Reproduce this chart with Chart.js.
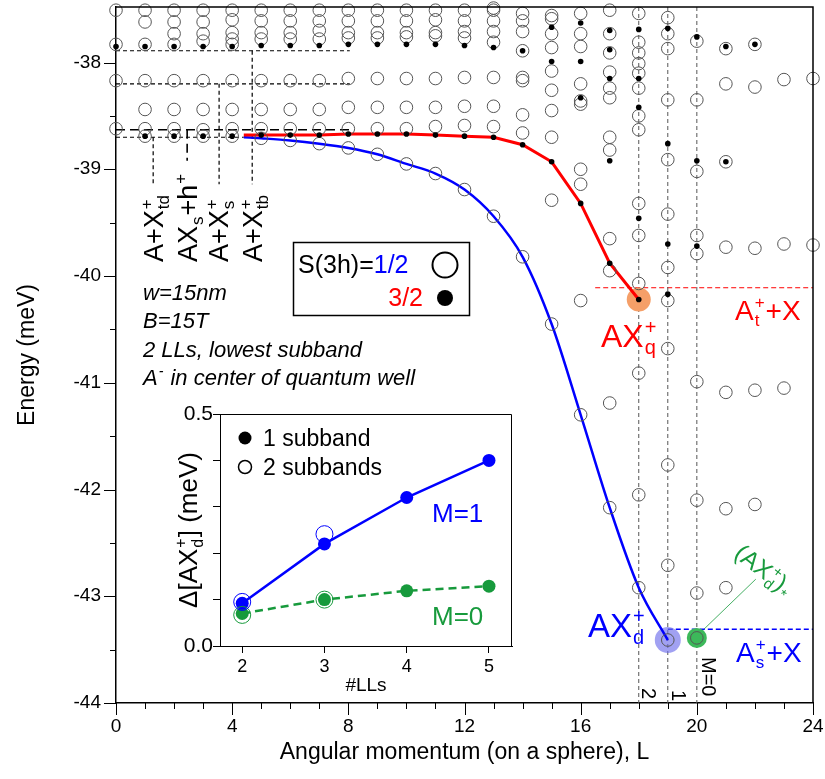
<!DOCTYPE html>
<html><head><meta charset="utf-8">
<script src="https://cdn.jsdelivr.net/npm/chart.js@4.4.1/dist/chart.umd.min.js"></script>
<style>
body{margin:0;background:#fff}
#wrap{position:relative;width:825px;height:779px}
#inset{position:absolute;left:150px;top:395px}
</style>
</head><body>
<div id="wrap"><canvas id="main" width="825" height="779"></canvas><canvas id="inset" width="370" height="305"></canvas></div>
<script>
// S=1/2 levels (open circles), per angular momentum L
const openCols = [
  [0, [-37.51,-37.83,-38.17,-38.62]],
  [1, [-37.51,-37.62,-37.83,-38.17,-38.44,-38.62,-38.69]],
  [2, [-37.51,-37.62,-37.73,-37.83,-38.17,-38.44,-38.62,-38.69]],
  [3, [-37.51,-37.62,-37.73,-37.80,-38.17,-38.44,-38.63,-38.69]],
  [4, [-37.51,-37.60,-37.72,-37.78,-37.83,-38.17,-38.44,-38.62,-38.69]],
  [5, [-37.51,-37.61,-37.72,-37.78,-38.17,-38.44,-38.62,-38.71]],
  [6, [-37.51,-37.61,-37.72,-37.78,-38.17,-38.44,-38.62,-38.73]],
  [7, [-37.51,-37.61,-37.70,-37.78,-38.17,-38.44,-38.62,-38.76]],
  [8, [-37.51,-37.61,-37.72,-37.77,-38.15,-38.42,-38.62,-38.80]],
  [9, [-37.51,-37.61,-37.72,-37.77,-38.15,-38.42,-38.62,-38.86]],
  [10, [-37.51,-37.61,-37.72,-37.76,-38.15,-38.42,-38.62,-38.95]],
  [11, [-37.51,-37.60,-37.72,-37.75,-38.15,-38.42,-38.60,-39.04]],
  [12, [-37.51,-37.61,-37.71,-37.77,-38.14,-38.41,-38.59,-39.19]],
  [13, [-37.49,-37.51,-37.61,-37.71,-37.81,-38.14,-38.41,-38.60,-39.44]],
  [14, [-37.54,-37.61,-37.71,-37.89,-38.14,-38.17,-38.49,-38.66,-39.82]],
  [15, [-37.56,-37.59,-37.73,-37.86,-38.08,-38.26,-38.45,-38.70,-39.29,-40.45]],
  [16, [-37.54,-37.73,-37.85,-38.20,-38.36,-38.39,-39.00,-39.14,-40.23,-41.30]],
  [17, [-37.51,-37.73,-37.91,-38.09,-38.24,-38.33,-38.70,-38.82,-39.65,-39.95,-41.19,-42.17]],
  [18, [-37.54,-37.81,-37.91,-38.01,-38.10,-38.24,-38.50,-38.63,-39.32,-39.62,-40.07,-40.91,-42.05,-42.92]],
  [19, [-37.58,-37.73,-37.87,-38.35,-38.91,-39.42,-39.92,-40.23,-40.68,-41.77,-42.71,-43.41]],
  [20, [-37.80,-38.35,-39.02,-39.62,-39.79,-40.99,-42.10,-42.97,-43.39]],
  [21, [-37.87,-38.20,-38.93,-39.73,-41.09,-42.18,-42.92]],
  [22, [-37.83,-38.23,-39.74,-41.07,-42.14]],
  [23, [-38.16,-39.70,-41.05]],
  [24, [-38.15,-39.71]]
];
// S=3/2 levels (filled dots)
const dotCols = [
  [0, [-37.85]], [1, [-37.85,-38.69]], [2, [-37.85,-38.69]], [3, [-37.85,-38.69]],
  [4, [-37.85,-38.69]], [5, [-37.84,-38.68]], [6, [-37.84,-38.68]], [7, [-37.84,-38.68]],
  [8, [-37.83,-38.67]], [9, [-37.83,-38.67]], [10, [-37.83,-38.67]], [11, [-37.83,-38.68]],
  [12, [-37.84,-38.69]], [13, [-37.86,-38.70]], [14, [-37.89,-38.77]],
  [15, [-37.67,-37.99,-38.93]], [16, [-37.63,-37.99,-38.33,-39.32]],
  [17, [-37.70,-37.88,-38.15,-38.92,-39.88]], [18, [-37.69,-38.15,-38.42,-39.46,-40.22]],
  [19, [-37.68,-38.76,-39.70,-40.17]], [20, [-37.76,-38.92,-39.72]],
  [21, [-37.85,-38.93]], [22, [-37.83]]
];
const redL = [4.4,5,6,7,8,9,10,11,12,13,14,15,16,17,18];
const redE = [-38.68,-38.68,-38.68,-38.68,-38.67,-38.67,-38.67,-38.68,-38.69,-38.70,-38.77,-38.93,-39.32,-39.88,-40.22];
const blueL = [4.4,5,6,7,8,9,10,11,12,13,14,15,16,17,18,19];
const blueE = [-38.70,-38.71,-38.73,-38.76,-38.80,-38.86,-38.95,-39.04,-39.19,-39.44,-39.82,-40.45,-41.30,-42.17,-42.92,-43.41];
// guide lines [x0, y0, x1, y1]
const shortDash = [[0,-37.89,8.05,-37.89],[0,-38.20,8.05,-38.20],[0,-38.70,4.4,-38.70],
  [1.28,-38.70,1.28,-39.14],[3.55,-38.20,3.55,-39.14],[4.69,-37.89,4.69,-39.14]];
const longDash = [[0,-38.63,8.05,-38.63],[2.45,-38.63,2.45,-38.92]];
const momentL = [18,19,20];
const tripletLine = [[16.5,-40.11,24,-40.11]];
const singletLine = [[19,-43.31,24,-43.31]];
const starLine = [[20.24,-43.31,22.03,-42.84]];
const haloQ = [18,-40.22], haloD = [19,-43.41], haloStar = [20,-43.39];
const xMajor = [0,4,8,12,16,20,24];
const xMinor = [0,1,2,3,4,5,6,7,8,9,10,11,12,13,14,15,16,17,18,19,20,21,22,23,24];
const yMajor = [-44,-43,-42,-41,-40,-39,-38];
const yMinor = [-43.5,-42.5,-41.5,-40.5,-39.5,-38.5];

// inset: splitting vs number of Landau levels
const llCount = [2,3,4,5];
const m1One = [0.092,0.220,0.320,0.400];
const m0One = [0.070,0.100,0.119,0.129];
const llTwo = [2,3];
const m1Two = [0.095,0.241];
const m0Two = [0.067,0.100];
const insetY = [0,0.1,0.2,0.3,0.4,0.5];

const FONT = "'Liberation Sans', Arial, sans-serif";
const RED = '#ff0000', BLUE = '#0000ff', GREEN = '#179a3c';

const pts = cols => cols.flatMap(([L, es]) => es.map(e => ({x: L, y: e})));
const xy = (xs, ys) => xs.map((x, i) => ({x, y: ys[i]}));
const seg = (s, color, dash, width) => s.map(([a,b,c,d]) => ({
  type: 'line', data: [{x:a,y:b},{x:c,y:d}], borderColor: color, borderDash: dash,
  borderWidth: width, pointRadius: 0, order: 6
}));

function rich(ctx, x, y, parts, size, color, style) {
  style = style || '';
  ctx.fillStyle = color; ctx.textBaseline = 'alphabetic'; ctx.textAlign = 'left';
  let cx = x;
  for (const [m, sup, sub] of parts) {
    if (m) { ctx.font = style + size + 'px ' + FONT; ctx.fillText(m, cx, y); cx += ctx.measureText(m).width; }
    const s = Math.round(size * 0.62);
    ctx.font = style + s + 'px ' + FONT;
    let w = 0;
    if (sup) { ctx.fillText(sup, cx + 1, y - size * 0.42); w = Math.max(w, ctx.measureText(sup).width); }
    if (sub) { ctx.fillText(sub, cx + 1, y + size * 0.22); w = Math.max(w, ctx.measureText(sub).width); }
    if (w) cx += w + 2;
  }
  return cx - x;
}
function rot(ctx, x, y, ang, parts, size, color, style) {
  ctx.save(); ctx.translate(x, y); ctx.rotate(ang); rich(ctx, 0, 0, parts, size, color, style); ctx.restore();
}

const mainMarks = {
  id: 'mainMarks',
  afterDraw(chart) {
    const {ctx, chartArea: a, scales: {x, y}} = chart;
    ctx.save();
    ctx.strokeStyle = '#000'; ctx.lineWidth = 1;
    ctx.beginPath();
    xMinor.forEach(v => {
      const px = Math.round(x.getPixelForValue(v)) + 0.5;
      ctx.moveTo(px, a.bottom); ctx.lineTo(px, a.bottom + (xMajor.includes(v) ? 12 : 6));
    });
    yMajor.concat(yMinor).forEach(v => {
      const py = Math.round(y.getPixelForValue(v)) + 0.5;
      ctx.moveTo(a.left, py); ctx.lineTo(a.left - (yMajor.includes(v) ? 12 : 6), py);
    });
    ctx.stroke();
    ctx.lineWidth = 1.5;
    ctx.beginPath();
    ctx.moveTo(a.left, a.top); ctx.lineTo(a.right, a.top); ctx.lineTo(a.right, a.bottom);
    ctx.stroke();

    // left-hand threshold labels
    [[163, [['A+X','+','td']]], [197, [['AX','','s'],['+h','+','']]],
     [228, [['A+X','+','s']]], [262, [['A+X','+','tb']]]].forEach(([bx, p]) =>
      rot(ctx, bx, 262, -Math.PI / 2, p, 27, '#000'));

    // parameters
    const it = 'italic ';
    rich(ctx, 143, 300, [['w=15nm']], 22, '#000', it);
    rich(ctx, 143, 328, [['B=15T']], 22, '#000', it);
    rich(ctx, 143, 357, [['2 LLs, lowest subband']], 22, '#000', it);
    rich(ctx, 143, 385, [['A','-',''],[' in center of quantum well']], 22, '#000', it);

    // spin legend
    ctx.lineWidth = 1.5; ctx.strokeStyle = '#000';
    ctx.strokeRect(293.5, 242.5, 176, 73);
    let w = rich(ctx, 298, 273, [['S(3h)=']], 25, '#000');
    rich(ctx, 298 + w, 273, [['1/2']], 25, BLUE);
    ctx.font = '25px ' + FONT;
    const w32 = ctx.measureText('3/2').width;
    rich(ctx, 423 - w32, 306, [['3/2']], 25, RED);
    ctx.lineWidth = 2;
    ctx.beginPath(); ctx.arc(445, 265, 12.5, 0, Math.PI * 2); ctx.stroke();
    ctx.fillStyle = '#000';
    ctx.beginPath(); ctx.arc(445, 298, 8, 0, Math.PI * 2); ctx.fill();

    // state labels
    rich(ctx, 601, 347, [['AX','+','q']], 32, RED);
    rich(ctx, 735, 320, [['A','+','t'],['+X']], 28, RED);
    rich(ctx, 588, 637, [['AX','+','d']], 33, BLUE);
    rich(ctx, 736, 662, [['A','+','s'],['+X']], 28, BLUE);
    rot(ctx, 733, 556, 0.66, [['(AX','+','d'],[')','','*']], 24, GREEN);

    // M labels
    rot(ctx, 642, 688, Math.PI / 2, [['2']], 20, '#000');
    rot(ctx, 672, 690, Math.PI / 2, [['1']], 20, '#000');
    rot(ctx, 702, 657, Math.PI / 2, [['M=0']], 20, '#000');
    ctx.restore();
  }
};

const mainData = [
  {label: 'S=3/2', data: pts(dotCols), pointRadius: 2.8, pointBackgroundColor: '#000',
   pointBorderWidth: 0, order: 0, clip: false},
  {label: 'S=1/2', data: pts(openCols), pointRadius: 6.3, pointBackgroundColor: 'rgba(0,0,0,0)',
   pointBorderColor: '#555', pointBorderWidth: 1, order: 1, clip: false},
  {type: 'line', label: 'AXq', data: xy(redL, redE), borderColor: RED, borderWidth: 3,
   pointRadius: 0, tension: 0, order: 2},
  {type: 'line', label: 'AXd', data: xy(blueL, blueE), borderColor: BLUE, borderWidth: 2.5,
   pointRadius: 0, cubicInterpolationMode: 'monotone', order: 3},
  {label: 'haloQ', data: [{x: haloQ[0], y: haloQ[1]}], pointRadius: 12, pointBackgroundColor: '#f59f68', pointBorderWidth: 0, order: 4},
  {label: 'haloD', data: [{x: haloD[0], y: haloD[1]}], pointRadius: 13, pointBackgroundColor: 'rgba(110,110,235,0.65)', pointBorderWidth: 0, order: 4},
  {label: 'haloStar', data: [{x: haloStar[0], y: haloStar[1]}], pointRadius: 10, pointBackgroundColor: '#3cb95a', pointBorderWidth: 0, order: 4},
  ...seg(shortDash, '#000', [4, 3], 1.2),
  ...seg(longDash, '#000', [9, 5], 1.6),
  ...seg(momentL.map(L => [L, -37.48, L, -44]), '#555', [4, 3], 1),
  ...seg(tripletLine, RED, [5, 3], 1),
  ...seg(singletLine, BLUE, [5, 3], 1.5),
  ...seg(starLine, GREEN, [], 0.8)
];

new Chart(document.getElementById('main'), {
  type: 'scatter',
  data: {datasets: mainData},
  options: {
    responsive: false, animation: false, events: [],
    layout: {autoPadding: false, padding: {top: 7, right: 12, left: 0, bottom: 0}},
    plugins: {legend: {display: false}, tooltip: {enabled: false}},
    scales: {
      x: {
        type: 'linear', min: 0, max: 24,
        afterBuildTicks: s => { s.ticks = xMajor.map(v => ({value: v})); },
        afterFit: s => { s.height = 76; s.paddingLeft = 0; s.paddingRight = 0; },
        ticks: {autoSkip: false, maxRotation: 0, padding: 0, color: '#000', font: {family: FONT, size: 19}},
        grid: {drawOnChartArea: false, color: 'rgba(0,0,0,0)', tickLength: 12},
        border: {color: '#000', width: 1.5},
        title: {display: true, text: 'Angular momentum (on a sphere), L', color: '#000',
                font: {family: FONT, size: 23}, padding: {top: 0, bottom: 13}}
      },
      y: {
        type: 'linear', min: -44, max: -37.48,
        afterBuildTicks: s => { s.ticks = yMajor.map(v => ({value: v})); },
        afterFit: s => { s.width = 116; s.paddingTop = 0; s.paddingBottom = 0; },
        ticks: {autoSkip: false, padding: 3, color: '#000', font: {family: FONT, size: 19}},
        grid: {drawOnChartArea: false, color: 'rgba(0,0,0,0)', tickLength: 12},
        border: {color: '#000', width: 1.5},
        title: {display: true, text: 'Energy (meV)', color: '#000',
                font: {family: FONT, size: 23}, padding: {top: 14, bottom: 0}}
      }
    }
  },
  plugins: [mainMarks]
});

const insetMarks = {
  id: 'insetMarks',
  afterDraw(chart) {
    const {ctx, chartArea: a} = chart;
    ctx.save();
    ctx.strokeStyle = '#000'; ctx.lineWidth = 1;
    ctx.beginPath();
    ctx.moveTo(a.left, a.top + 0.5); ctx.lineTo(a.right - 0.5, a.top + 0.5); ctx.lineTo(a.right - 0.5, a.bottom);
    ctx.stroke();
    // y title
    ctx.font = '26px ' + FONT;
    const parts = [['\u0394[AX','+','d'],['] (meV)']];
    const len = rich({fillText(){}, measureText: t => ctx.measureText(t), set font(f){ ctx.font = f; }, set fillStyle(v){}, set textBaseline(v){}, set textAlign(v){}}, 0, 0, parts, 26, '#000');
    rot(ctx, 47, (a.top + a.bottom) / 2 + len / 2, -Math.PI / 2, parts, 26, '#000');
    // legend
    ctx.fillStyle = '#000';
    ctx.beginPath(); ctx.arc(95, 43, 6.5, 0, Math.PI * 2); ctx.fill();
    ctx.lineWidth = 1.5;
    ctx.beginPath(); ctx.arc(95, 72, 6.5, 0, Math.PI * 2); ctx.stroke();
    rich(ctx, 113, 51, [['1 subband']], 23, '#000');
    rich(ctx, 113, 80, [['2 subbands']], 23, '#000');
    rich(ctx, 282, 127, [['M=1']], 26, BLUE);
    rich(ctx, 282, 230, [['M=0']], 26, GREEN);
    ctx.restore();
  }
};

new Chart(document.getElementById('inset'), {
  type: 'scatter',
  data: {datasets: [
    {label: 'M=1 two subbands', data: xy(llTwo, m1Two), pointRadius: 8.5, pointBackgroundColor: 'rgba(0,0,0,0)',
     pointBorderColor: BLUE, pointBorderWidth: 1, order: 0},
    {label: 'M=0 two subbands', data: xy(llTwo, m0Two), pointRadius: 8.5, pointBackgroundColor: 'rgba(0,0,0,0)',
     pointBorderColor: GREEN, pointBorderWidth: 1, order: 0},
    {type: 'line', label: 'M=1', data: xy(llCount, m1One), borderColor: BLUE, borderWidth: 2.5,
     pointRadius: 6.5, pointBackgroundColor: BLUE, pointBorderWidth: 0, order: 1},
    {type: 'line', label: 'M=0', data: xy(llCount, m0One), borderColor: GREEN, borderWidth: 2.5, borderDash: [8, 5],
     pointRadius: 6.5, pointBackgroundColor: GREEN, pointBorderWidth: 0, order: 2}
  ]},
  options: {
    responsive: false, animation: false, events: [],
    layout: {autoPadding: false, padding: {top: 19, right: 8, left: 0, bottom: 0}},
    plugins: {legend: {display: false}, tooltip: {enabled: false}},
    scales: {
      x: {
        type: 'linear', min: 1.73, max: 5.28,
        afterBuildTicks: s => { s.ticks = llCount.map(v => ({value: v})); },
        afterFit: s => { s.height = 54; s.paddingLeft = 0; s.paddingRight = 0; },
        ticks: {autoSkip: false, maxRotation: 0, padding: 3, color: '#000', font: {family: FONT, size: 18}},
        grid: {drawOnChartArea: false, color: '#000', tickLength: 7},
        border: {color: '#000', width: 1},
        title: {display: true, text: '#LLs', color: '#000', font: {family: FONT, size: 19}, padding: {top: 0, bottom: 3}}
      },
      y: {
        type: 'linear', min: 0, max: 0.5,
        afterBuildTicks: s => { s.ticks = insetY.map(v => ({value: v})); },
        afterFit: s => { s.width = 70; s.paddingTop = 0; s.paddingBottom = 0; },
        ticks: {autoSkip: false, padding: 0, color: '#000', font: {family: FONT, size: 21},
                callback: v => Math.abs(v) < 1e-9 ? '0.0' : Math.abs(v - 0.5) < 1e-9 ? '0.5' : ''},
        grid: {drawOnChartArea: false, color: '#000', tickLength: 7},
        border: {color: '#000', width: 1}
      }
    }
  },
  plugins: [insetMarks]
});
</script>
</body></html>
